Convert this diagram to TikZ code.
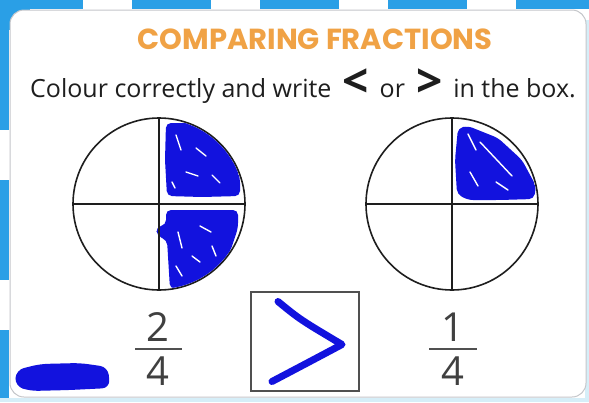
\documentclass[tikz,border=0pt]{standalone}
\usepackage{fontspec}
\setmainfont{Open Sans}
\newfontfamily\titlefont{Poppins}
\usetikzlibrary{positioning,calc}
\definecolor{stripe}{HTML}{2A9FE6}
\definecolor{palestripe}{HTML}{D6EEF8}
\definecolor{panelrule}{HTML}{C4C6CA}
\definecolor{pen}{HTML}{1212DE}
\definecolor{ttlorange}{HTML}{F0A245}
\definecolor{ink}{HTML}{1E1E1E}
\definecolor{boxgray}{HTML}{505050}
\newcommand\chev[1]{\hspace{11pt}{\fontsize{46}{46}\selectfont\textbf{#1}}\hspace{11pt}}

\begin{document}
\begin{tikzpicture}[x=1pt,y=-1pt,every node/.style={inner sep=0pt,text=ink},pie/.style={circle,draw=ink,line width=1.6pt,minimum size=172pt},cut/.style={draw=ink,line width=1.8pt},digit/.style={font=\fontsize{40}{40}\selectfont,text=boxgray!80!black},bar/.style={draw=boxgray,line width=1.8pt},scrib/.style={fill=pen,rounded corners=5pt},speck/.style={draw=white,line width=1.4pt,line cap=round},stroke/.style={draw=pen,line width=7pt,line cap=round,line join=round}]
\useasboundingbox (0,0) rectangle (589,402);
% frame
\fill[white] (0,0) rectangle (589,402);
\draw[stripe,line width=9pt,dash pattern=on 79pt off 49pt,dash phase=-4pt] (0,4) -- (589,4);
\draw[stripe,line width=9pt,dash pattern=on 100pt off 50pt] (4,30) -- (4,402);
\draw[palestripe,line width=4pt] (587,20) -- (587,402) (0,400) -- (589,400);
\fill[stripe] (0,0) rectangle (30,30);
\draw[panelrule,fill=white,line width=1pt,rounded corners=14pt] (10,10) rectangle (586,397);
% text
\node[text=ttlorange] (title) at (315,39) {\titlefont\bfseries\fontsize{29}{29}\selectfont COMPARING FRACTIONS};
\node (instr) at (303,86) {\fontsize{25}{25}\selectfont Colour correctly and write\chev{<}or\chev{>}in the box.};
% left circle, 2/4
\node[pie] (lpie) at (159,204) {};
\begin{scope}
\clip (159,204) circle (85pt);
\fill[scrib] (166,123) -- (192,123) -- (214,134) -- (232,155) -- (240,178) -- (240,196) -- (202,197) -- (167,196) -- (165,160) -- cycle;
\fill[scrib] (166,210) -- (238,210) -- (238,228) -- (230,252) -- (214,272) -- (190,286) -- (170,289) -- (167,240) -- (157,236) -- (156,227) -- (166,225) -- cycle;
\draw[speck] (176,135) -- (181,150) (196,148) -- (206,156) (186,172) -- (198,176) (212,175) -- (220,183) (172,182) -- (175,188);
\draw[speck] (178,232) -- (182,248) (200,226) -- (211,232) (192,256) -- (200,262) (212,246) -- (216,256) (176,266) -- (182,276);
\end{scope}
\draw[cut] (lpie.north) -- (lpie.south);
\draw[cut] (lpie.west) -- (lpie.east);
% right circle, 1/4
\node[pie] (rpie) at (452,204) {};
\begin{scope}
\clip (452,204) circle (85pt);
\fill[scrib] (458,128) -- (468,126) -- (498,138) -- (522,160) -- (536,186) -- (534,199) -- (500,200) -- (468,200) -- (457,194) -- (455,160) -- cycle;
\draw[speck] (468,134) -- (476,150) (480,142) -- (512,176) (470,172) -- (478,186) (496,182) -- (508,190);
\end{scope}
\draw[cut] (rpie.north) -- (rpie.south);
\draw[cut] (rpie.west) -- (rpie.east);
% fractions
\node[digit] (lnum) at (158,327) {2};
\node[digit] (lden) at (158,371) {4};
\coordinate (lbarl) at (135,349);
\coordinate (lbarr) at (182,349);
\draw[bar] (lbarl) -- (lbarr);
\node[digit] (rnum) at (453,327) {1};
\node[digit] (rden) at (453,371) {4};
\coordinate (rbarl) at (429,349);
\coordinate (rbarr) at (477,349);
\draw[bar] (rbarl) -- (rbarr);
% answer box
\node[draw=boxgray,line width=1.8pt,minimum width=108pt,minimum height=99pt] (ans) at (305,341.5) {};
\draw[stroke] ([shift={(-27,-40)}]ans.center) .. controls ([shift={(-5,-22)}]ans.center) .. ([shift={(37,3)}]ans.center) .. controls ([shift={(5,20)}]ans.center) .. ([shift={(-33,40)}]ans.center);
% smudge
\fill[pen,rounded corners=8pt] (16,370) -- (40,364) -- (80,363) -- (108,367) -- (110,388) -- (70,390) -- (30,391) -- (15,386) -- cycle;
\end{tikzpicture}
\end{document}
